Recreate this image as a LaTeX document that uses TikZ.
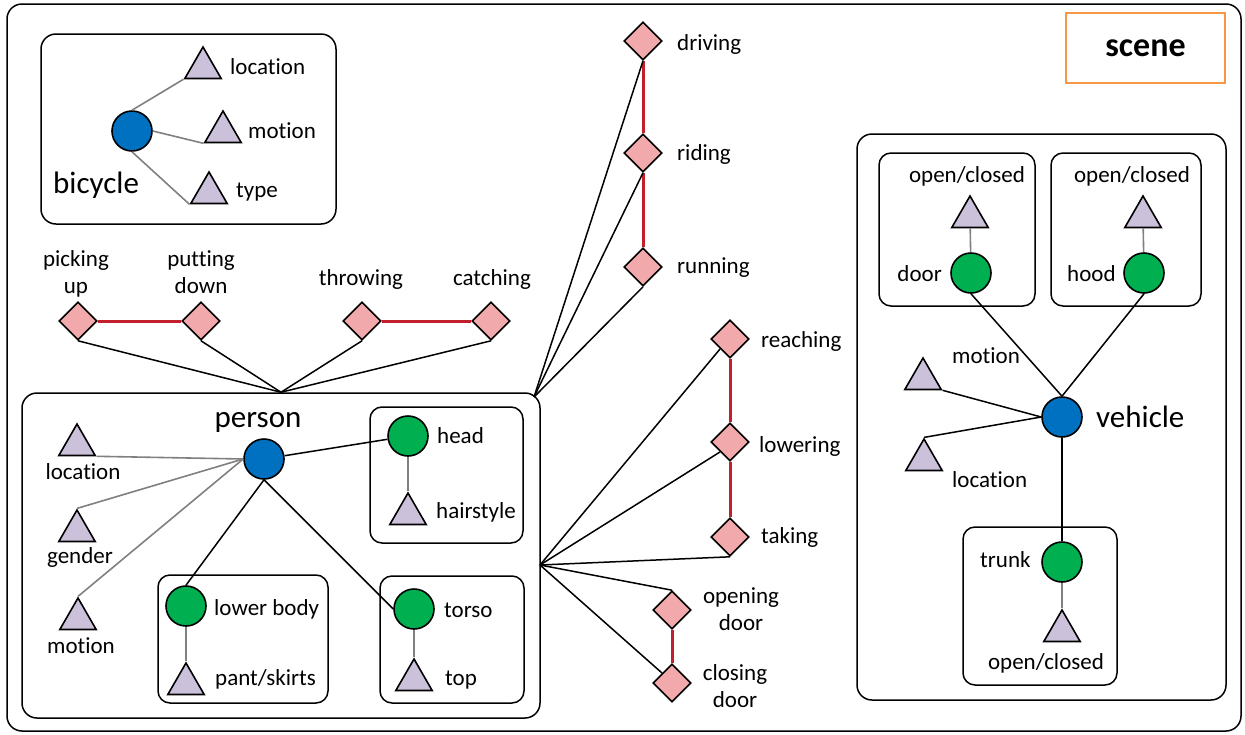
\documentclass[tikz,border=0pt]{standalone}
\usepackage{fontspec}
\setmainfont{Carlito}[Ligatures={NoCommon}]
\usetikzlibrary{shapes.geometric}

\definecolor{objblue}{HTML}{0070C0}
\definecolor{partgreen}{HTML}{00B050}
\definecolor{attrfill}{HTML}{CCC1DA}
\definecolor{actfill}{HTML}{F2A9AB}
\definecolor{exclred}{HTML}{C21E2C}
\definecolor{sceneorange}{HTML}{F79646}

\newcommand{\lblsize}{\fontsize{23}{27}\selectfont}
\newcommand{\bigsize}{\fontsize{31}{36}\selectfont}
\newcommand{\scenesize}{\fontsize{34}{40}\selectfont}

\begin{document}
\begin{tikzpicture}[x=1pt, y=-1pt,
		box/.style={draw, line width=1.5pt, rounded corners=15pt},
		subbox/.style={draw, line width=1.5pt, rounded corners=12pt},
		obj/.style={circle, draw, line width=1.6pt, fill=objblue, minimum size=40pt, inner sep=0pt},
		part/.style={obj, fill=partgreen},
		attr/.style={regular polygon, regular polygon sides=3, draw, line width=1.6pt, fill=attrfill, minimum size=42pt, inner sep=0pt},
		act/.style={diamond, draw, line width=1.6pt, fill=actfill, minimum size=38pt, inner sep=0pt},
		lbl/.style={font=\lblsize, inner sep=0pt},
		big/.style={font=\bigsize, inner sep=0pt},
		rel/.style={line width=1.5pt},
		attrline/.style={gray, line width=1.6pt},
		excl/.style={exclred, line width=3pt}]
		\useasboundingbox (0,0) rectangle (1245,734);
		\draw [box] (7,4) rectangle (1241,731);

		\node [draw=sceneorange, line width=2pt, minimum width=159pt, minimum height=70pt,
		 inner sep=0pt, font=\bfseries\scenesize] (scene) at (1145.5,48) {scene};

		% bicycle
		\draw [box] (41,34) rectangle (336,224);
		\node [obj] (bike) at (132,131) {};
		\node [attr] (bloc) at (203,68) {};
		\node [attr] (bmot) at (223,132) {};
		\node [attr] (btype) at (209,193) {};
		\node [lbl, anchor=base west] (bloclbl) at (230,74) {location};
		\node [lbl, anchor=base west] (bmotlbl) at (248,138) {motion};
		\node [lbl, anchor=base west] (btypelbl) at (236,197) {type};
		\node [big, anchor=base west] (bikelbl) at (53,193) {bicycle};
		\draw [attrline] (bike.north) -- (bloc.corner 2);
		\draw [attrline] (bike.east) -- (bmot.corner 2);
		\draw [attrline] (bike.south) -- (btype.corner 2);

		% person
		\node [box, minimum width=518pt, minimum height=325pt] (pbox) at (281,555.5) {};
		\draw [subbox] (370,407) rectangle (523,543);
		\draw [subbox] (158,575) rectangle (328,703);
		\draw [subbox] (380,576) rectangle (524,703);
		\node [obj] (person) at (264,459) {};
		\node [big, anchor=base] (personlbl) at (258,427) {person};
		\node [part] (head) at (408,436) {};
		\node [attr] (hair) at (408,514) {};
		\node [part] (lbody) at (186,606) {};
		\node [attr] (pant) at (186,684) {};
		\node [part] (torso) at (414,609) {};
		\node [attr] (top) at (414,680) {};
		\node [attr] (ploc) at (77,445) {};
		\node [attr] (pgen) at (77,531) {};
		\node [attr] (pmot) at (78,619) {};
		\node [lbl, anchor=base west] (headlbl) at (437,443) {head};
		\node [lbl, anchor=base west] (hairlbl) at (436,518) {hairstyle};
		\node [lbl, anchor=base west] (lbodylbl) at (214,615) {lower body};
		\node [lbl, anchor=base west] (pantlbl) at (215,685) {pant/skirts};
		\node [lbl, anchor=base west] (torsolbl) at (444,617) {torso};
		\node [lbl, anchor=base west] (toplbl) at (445,685) {top};
		\node [lbl, anchor=base] (ploclbl) at (83,479) {location};
		\node [lbl, anchor=base] (pgenlbl) at (80,563) {gender};
		\node [lbl, anchor=base] (pmotlbl) at (81,653) {motion};

		\draw [attrline] (person.west) -- (ploc.corner 3);
		\draw [attrline] (person.west) -- (pgen.corner 1);
		\draw [attrline] (person.west) -- (pmot.corner 1);
		\draw [rel] (person) -- (head);
		\draw [rel] (person.south) -- (lbody.north);
		\draw [rel] (person.south) -- (torso.west);
		\draw [attrline] (head) -- (hair);
		\draw [attrline] (lbody) -- (pant);
		\draw [attrline] (torso) -- (top);

		% actions above the person
		\node [act] (pick) at (78,321) {};
		\node [act] (put) at (201,321) {};
		\node [act] (throw) at (362,321) {};
		\node [act] (catch) at (491,321) {};
		\node [lbl, align=center] (picklbl) at (76,274) {picking\\up};
		\node [lbl, align=center] (putlbl) at (201,272) {putting\\down};
		\node [lbl, anchor=base] (throwlbl) at (361,285) {throwing};
		\node [lbl, anchor=base] (catchlbl) at (492,285) {catching};
		\draw [excl] (pick.east) -- (put.west);
		\draw [excl] (throw.east) -- (catch.west);
		\foreach \a in {pick,put,throw,catch}
			\draw [rel] (\a.south) -- (pbox.north);

		% actions on the right
		\coordinate (pcorner) at (534,397);
		\coordinate (pside) at (540,565);
		\node [act] (drive) at (643,41) {};
		\node [act] (ride) at (643,153) {};
		\node [act] (run) at (643,267) {};
		\node [lbl, anchor=base west] (drivelbl) at (677,50) {driving};
		\node [lbl, anchor=base west] (ridelbl) at (677,160) {riding};
		\node [lbl, anchor=base west] (runlbl) at (677,273) {running};
		\draw [excl] (drive.south) -- (ride.north) (ride.south) -- (run.north);
		\foreach \a in {drive,ride,run}
			\draw [rel] (\a.south) -- (pcorner);

		\node [act] (reach) at (730,339) {};
		\node [act] (lowering) at (730,442) {};
		\node [act] (take) at (730,537) {};
		\node [act] (open) at (672,610) {};
		\node [act] (close) at (672,683) {};
		\node [lbl, anchor=base west] (reachlbl) at (761,347) {reaching};
		\node [lbl, anchor=base west] (loweringlbl) at (759,452) {lowering};
		\node [lbl, anchor=base west] (takelbl) at (761,543) {taking};
		\node [lbl, align=center] (openlbl) at (741,609) {opening\\door};
		\node [lbl, align=center] (closelbl) at (735,686) {closing\\door};
		\draw [excl] (reach.south) -- (lowering.north) (lowering.south) -- (take.north)
		 (open.south) -- (close.north);
		\draw [rel] (pside) -- (reach.south west);
		\draw [rel] (pside) -- (lowering.south west);
		\draw [rel] (pside) -- (take.south);
		\draw [rel] (pside) -- (open.north);
		\draw [rel] (pside) -- (close.north west);

		% vehicle
		\draw [box] (857,134) rectangle (1226,700);
		\draw [subbox] (879,153) rectangle (1035,306);
		\draw [subbox] (1051,153) rectangle (1201,306);
		\draw [subbox] (963,527) rectangle (1117,685);
		\node [part] (door) at (971,273) {};
		\node [part] (hood) at (1144,273) {};
		\node [attr] (dstate) at (970,217) {};
		\node [attr] (hstate) at (1143,217) {};
		\node [obj] (vehicle) at (1062,417) {};
		\node [attr] (vmot) at (923,379) {};
		\node [attr] (vloc) at (924,460) {};
		\node [part] (trunk) at (1062,562) {};
		\node [attr] (tstate) at (1062,631) {};
		\node [lbl, anchor=base] (dstatelbl) at (967,182) {open/closed};
		\node [lbl, anchor=base] (hstatelbl) at (1132,182) {open/closed};
		\node [lbl, anchor=base east] (doorlbl) at (942,281) {door};
		\node [lbl, anchor=base west] (hoodlbl) at (1067,281) {hood};
		\node [big, anchor=base west] (vehiclelbl) at (1096,427) {vehicle};
		\node [lbl, anchor=base west] (vmotlbl) at (952,363) {motion};
		\node [lbl, anchor=base west] (vloclbl) at (952,487) {location};
		\node [lbl, anchor=base west] (trunklbl) at (980,567) {trunk};
		\node [lbl, anchor=base] (tstatelbl) at (1046,669) {open/closed};

		\draw [attrline] (door) -- (dstate);
		\draw [attrline] (hood) -- (hstate);
		\draw [attrline] (trunk) -- (tstate);
		\draw [rel] (door.south) -- (vehicle.north);
		\draw [rel] (hood.south) -- (vehicle.north);
		\draw [rel] (vmot.corner 3) -- (vehicle.west);
		\draw [rel] (vloc.corner 1) -- (vehicle.west);
		\draw [rel] (vehicle.south) -- (trunk.north);
	\end{tikzpicture}
\end{document}
